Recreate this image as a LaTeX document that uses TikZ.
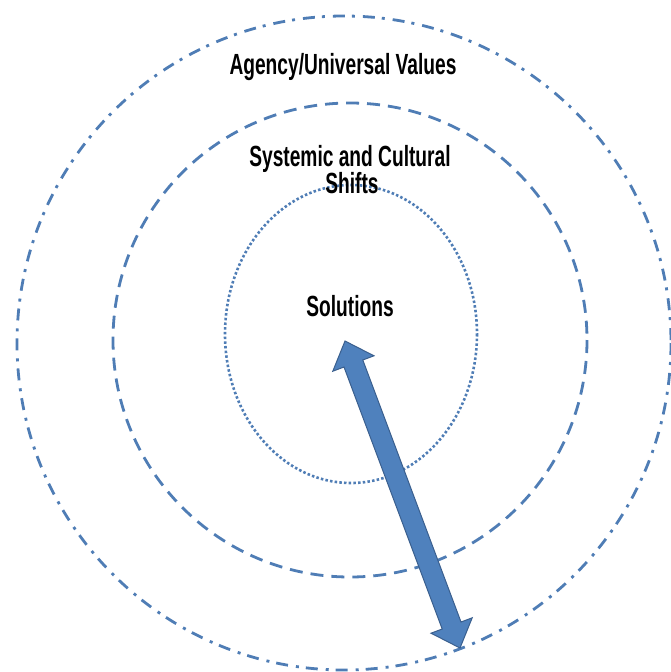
\documentclass[tikz,border=0pt]{standalone}
\usepackage{fontspec}
\setmainfont{Liberation Sans}
\definecolor{ringblue}{HTML}{4F7DB5}
\definecolor{arrowfill}{HTML}{4F81BD}
\definecolor{arrowline}{HTML}{3A5F8E}
\tikzset{
  ring/.style={draw=ringblue, line width=2.8pt},
  lbl/.style={font=\bfseries\fontsize{27}{27}\selectfont, inner sep=0pt, anchor=base, align=center},
}
\newcommand{\cond}[1]{\scalebox{0.71}[1.08]{#1}}
\begin{document}
\begin{tikzpicture}[x=1pt,y=-1pt]
\useasboundingbox (0,0) rectangle (670,672);
% outer ring
\draw[ring, dash pattern=on 12pt off 7pt on 3pt off 8pt] (344,343) circle [radius=327];
% middle ring
\draw[ring, dash pattern=on 13pt off 8pt] (350,340) circle [radius=237];
% inner ring
\draw[ring, line width=2.6pt, dash pattern=on 2.5pt off 2.2pt] (351,334) ellipse [x radius=126, y radius=149];
% labels
\node[lbl] (agency) at (343,74) {\cond{Agency/Universal Values}};
\node[lbl] (systemic) at (350,166) {\cond{Systemic and Cultural}};
\node[lbl] (shifts) at (352,193) {\cond{Shifts}};
\node[lbl] (solutions) at (350,316) {\cond{Solutions}};
% double arrow
\draw[fill=arrowfill, draw=arrowline, line width=1pt, line join=miter]
  (345,341) -- (332.8,371.2) -- (344.0,367.0) -- (442.2,629.0) -- (431.0,633.2)
  -- (460,648) -- (472.2,617.8) -- (461.0,622.0) -- (362.8,360.0) -- (374.0,355.8) -- cycle;
\end{tikzpicture}
\end{document}
